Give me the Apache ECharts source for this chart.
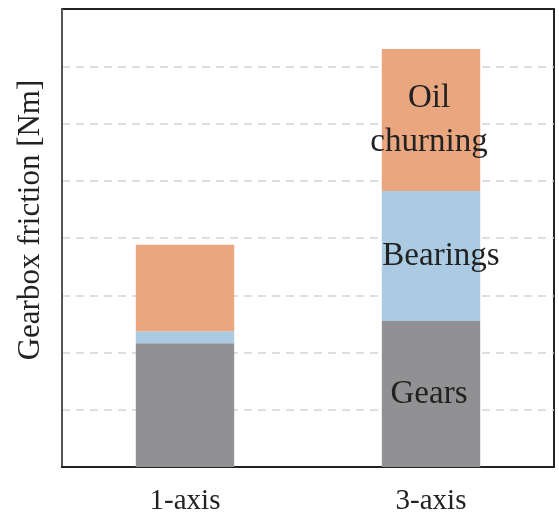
<!DOCTYPE html>
<html>
<head>
<meta charset="utf-8">
<script src="https://cdn.jsdelivr.net/npm/echarts@6/dist/echarts.min.js"></script>
<style>html,body{margin:0;padding:0;background:#fff;}#c{width:559px;height:518px;}</style>
</head>
<body>
<div id="c"></div>
<script>
const categories = ['1-axis', '3-axis'];
const gears = [2.16, 2.55];
const bearings = [0.21, 2.27];
const oil = [1.51, 2.48];
const seriesNames = ['Gears', 'Bearings', 'Oil\nchurning'];
const yMax = 8;

const FONT = '"Liberation Serif", "Times New Roman", serif';
const chart = echarts.init(document.getElementById('c'), null, {renderer: 'canvas'});

function mk(name, values, color, labelOffset) {
  return {
    name: name,
    type: 'bar',
    stack: 'total',
    barWidth: '40%',
    itemStyle: {color: color},
    data: values.map((v, i) => ({
      value: v,
      label: {
        show: i === 1,
        position: 'inside',
        offset: labelOffset,
        formatter: name,
        color: '#222',
        fontFamily: FONT,
        fontSize: 33,
        lineHeight: 44
      }
    }))
  };
}

chart.setOption({
  animation: false,
  backgroundColor: '#fff',
  grid: {left: 62, right: 5, top: 9, bottom: 51, show: true, borderColor: '#222', borderWidth: 2},
  xAxis: {
    type: 'category',
    data: categories,
    axisLine: {lineStyle: {color: '#222', width: 2}},
    axisTick: {show: false},
    axisLabel: {fontFamily: FONT, fontSize: 29, color: '#222', margin: 20}
  },
  yAxis: {
    type: 'value',
    min: 0,
    max: yMax,
    interval: 1,
    name: 'Gearbox friction [Nm]',
    nameLocation: 'middle',
    nameGap: 16,
    nameTextStyle: {fontFamily: FONT, fontSize: 31, color: '#222', padding: [0, 0, 0, 36]},
    axisLine: {show: true, lineStyle: {color: '#555', width: 2}},
    axisTick: {show: false},
    axisLabel: {show: false},
    splitLine: {showMaxLine: false, showMinLine: false, lineStyle: {color: '#d3d3d3', width: 1.5, type: [8, 6]}}
  },
  series: [
    mk(seriesNames[0], gears, '#919193', [-2, 0]),
    mk(seriesNames[1], bearings, '#abcbe3', [10, 0]),
    mk(seriesNames[2], oil, '#e9a67f', [-2, 0])
  ]
});
</script>
</body>
</html>
